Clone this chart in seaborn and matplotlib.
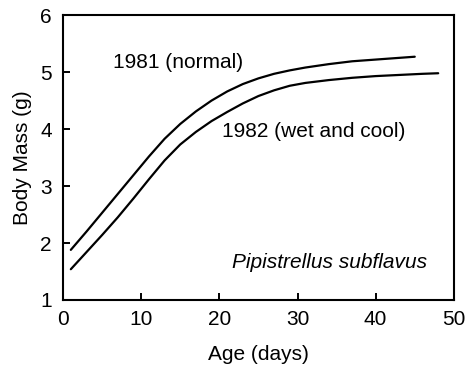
import numpy as np
import pandas as pd
import matplotlib
matplotlib.use("Agg")
import matplotlib.pyplot as plt
import seaborn as sns

# Growth curves of body mass in two seasons
age_1981 = [1, 3, 5, 7, 9, 11, 13, 15, 17, 19, 21, 23, 25, 27, 29, 31, 34, 37, 40, 43, 45]
mass_1981 = [1.88, 2.20, 2.53, 2.86, 3.19, 3.52, 3.83, 4.09, 4.31, 4.50, 4.66, 4.79, 4.89, 4.97, 5.03,
             5.08, 5.14, 5.19, 5.22, 5.25, 5.27]

age_1982 = [1, 3, 5, 7, 9, 11, 13, 15, 17, 19, 21, 23, 25, 27, 29, 31, 34, 37, 40, 43, 46, 48]
mass_1982 = [1.54, 1.84, 2.14, 2.45, 2.78, 3.12, 3.45, 3.73, 3.95, 4.14, 4.30, 4.45, 4.58, 4.68, 4.76,
             4.81, 4.86, 4.90, 4.93, 4.95, 4.97, 4.98]

label_1981 = "1981 (normal)"
label_1982 = "1982 (wet and cool)"
species = "Pipistrellus subflavus"

x_ticks = [0, 10, 20, 30, 40, 50]
y_ticks = [1, 2, 3, 4, 5, 6]

df = pd.concat([
    pd.DataFrame({"age": age_1981, "mass": mass_1981, "year": label_1981}),
    pd.DataFrame({"age": age_1982, "mass": mass_1982, "year": label_1982}),
])

sns.set_theme(style="ticks")
plt.rcParams["font.family"] = ["Liberation Sans", "DejaVu Sans"]
plt.rcParams["font.size"] = 15
plt.rcParams["text.color"] = "black"
plt.rcParams["axes.labelcolor"] = "black"

fig = plt.figure(figsize=(4.65, 3.69), dpi=100)
ax = fig.add_axes([0.1355, 0.187, 0.8405, 0.772])

sns.lineplot(data=df, x="age", y="mass", hue="year",
             palette={label_1981: "black", label_1982: "black"},
             linewidth=1.6, legend=False, ax=ax, estimator=None, sort=True)
for ln in ax.get_lines():
    ln.set_solid_joinstyle("round")

ax.set_xlim(0, 50)
ax.set_ylim(1, 6)
ax.set_xticks(x_ticks)
ax.set_yticks(y_ticks)
ax.tick_params(direction="in", length=5, width=1.4, labelsize=15,
               color="black", labelcolor="black")
ax.tick_params(axis="x", pad=7)
ax.tick_params(axis="y", pad=8)
for sp in ax.spines.values():
    sp.set_linewidth(1.5)
    sp.set_color("black")
    sp.set_visible(True)

ax.set_xlabel("Age (days)", fontsize=15, labelpad=12, color="black")
ax.set_ylabel("Body Mass (g)", fontsize=15, labelpad=6, color="black")

ax.text(6.4, 5.17, label_1981, fontsize=15, va="center", ha="left", color="black")
ax.text(20.3, 3.95, label_1982, fontsize=15, va="center", ha="left", color="black")
ax.text(46.6, 1.65, species, fontsize=15, style="italic", va="center", ha="right", color="black")

fig.savefig("out.png", dpi=100)
